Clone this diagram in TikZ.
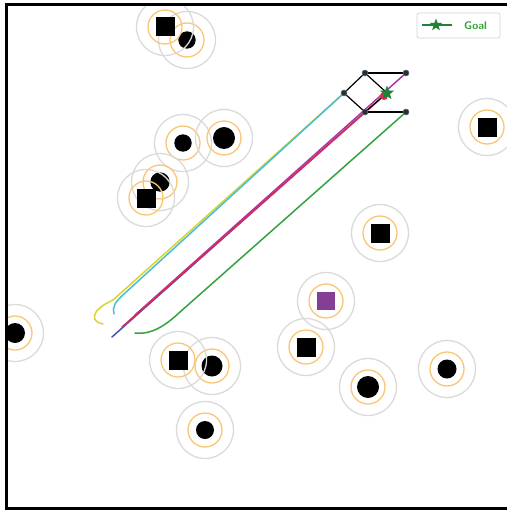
\documentclass[tikz,border=0pt]{standalone}
\usepackage{tikz}
\usetikzlibrary{shapes,arrows,positioning,calc}

\definecolor{ringgray}{RGB}{218,218,218}
\definecolor{ringorange}{RGB}{250,198,118}
\definecolor{boxpurple}{RGB}{132,62,150}
\definecolor{trajyellow}{RGB}{214,212,48}
\definecolor{trajcyan}{RGB}{72,190,212}
\definecolor{trajblue}{RGB}{72,82,180}
\definecolor{trajred}{RGB}{222,42,82}
\definecolor{trajmagenta}{RGB}{170,52,168}
\definecolor{trajgreen}{RGB}{52,162,62}
\definecolor{goalgreen}{RGB}{28,132,52}
\definecolor{dotdark}{RGB}{34,48,58}

\begin{document}
\begin{tikzpicture}[x=1pt,y=-1pt,
    traj/.style={line width=1.5pt,line cap=round},
    fdot/.style={circle,fill=dotdark,draw=gray,line width=0.4pt,minimum size=6pt,inner sep=0pt},
    fedge/.style={line width=1.2pt,black},
    goalstar/.style={star,star points=5,star point ratio=2.4,fill=goalgreen,minimum size=15pt,inner sep=0pt}]
\useasboundingbox (0,0) rectangle (506,511);

% obstacles, clipped to the plot frame
\begin{scope}
\clip (6,5) rectangle (520,508);
\foreach \x/\y/\r in {187/40/8.7, 183/143/8.7, 224/138/11, 160/182/9.7, 15/333/10,
                     212/366/10.5, 205/430/9, 368/387/11, 447/369/9.5}{
  \draw[ringgray,line width=1.3pt] (\x,\y) circle (28.5pt); % outer ring
  \draw[ringorange,line width=1.3pt] (\x,\y) circle (17pt); % inner ring
  \fill[black] (\x,\y) circle (\r pt); % disk
}
\foreach \x/\y in {165/27, 146/198, 380/233, 487/127, 306/347, 178/360}{
  \draw[ringgray,line width=1.3pt] (\x,\y) circle (28.5pt);
  \draw[ringorange,line width=1.3pt] (\x,\y) circle (17pt);
  \fill[black] (\x,\y) ++(-9.5,-9.5) rectangle ++(19,19); % box
}
\draw[ringgray,line width=1.3pt] (326,301) circle (28.5pt);
\draw[ringorange,line width=1.3pt] (326,301) circle (17pt);
\fill[boxpurple] (326,301) ++(-9,-9) rectangle ++(18,18); % target box
\end{scope}

% formation
\node[fdot] (fl) at (344,93) {};
\node[fdot] (ft) at (365,73) {};
\node[fdot] (ftr) at (406,73) {};
\node[fdot] (fb) at (365,112) {};
\node[fdot] (fbr) at (406,112) {};
\coordinate (goal) at (387,93);

% trajectories
\draw[traj,trajyellow] (103,324) .. controls (91,322) and (89,311) .. (113,300) -- (fl.center);
\draw[traj,trajcyan] (114,314) .. controls (112,307) and (115,302) .. (124,294) -- (fl.center);
\draw[traj,trajgreen] (135,333) .. controls (152,335) and (166,325) .. (180,312) -- (fbr.center);
\draw[traj,trajblue] (112,337) -- (fb.center);
\draw[traj,trajmagenta] (135,315) -- (ftr.center);
\draw[traj,trajred] (122,327) -- (goal);

\draw[fedge] (fl) -- (ft);
\draw[fedge] (ft) -- (ftr);
\draw[fedge] (ft) -- (goal);
\draw[fedge] (goal) -- (fb);
\draw[fedge] (fl) -- (fb);
\draw[fedge] (fb) -- (fbr);
\foreach \n in {fl,ft,ftr,fb,fbr}{\node[fdot] at (\n) {};}
\fill[trajred] (384,96) circle (4pt); % robot at goal
\node[goalstar] (goalmark) at (goal) {};

% frame
\draw[line width=3pt] (6,5) rectangle (520,508);

% legend
\node[draw=gray!35,line width=0.8pt,rounded corners=2pt,minimum width=83pt,minimum height=25pt] (legend) at (458.5,25.5) {};
\coordinate (la) at (422,25);
\coordinate (lb) at (452,25);
\draw[goalgreen,line width=1.8pt] (la) -- (lb);
\node[goalstar,minimum size=13pt] (legstar) at (436,25) {};
\node[text=trajgreen,font=\sffamily\bfseries\fontsize{11}{13}\selectfont,anchor=west,inner sep=0pt] (legtext) at (464,25.5) {Goal};
\end{tikzpicture}
\end{document}
